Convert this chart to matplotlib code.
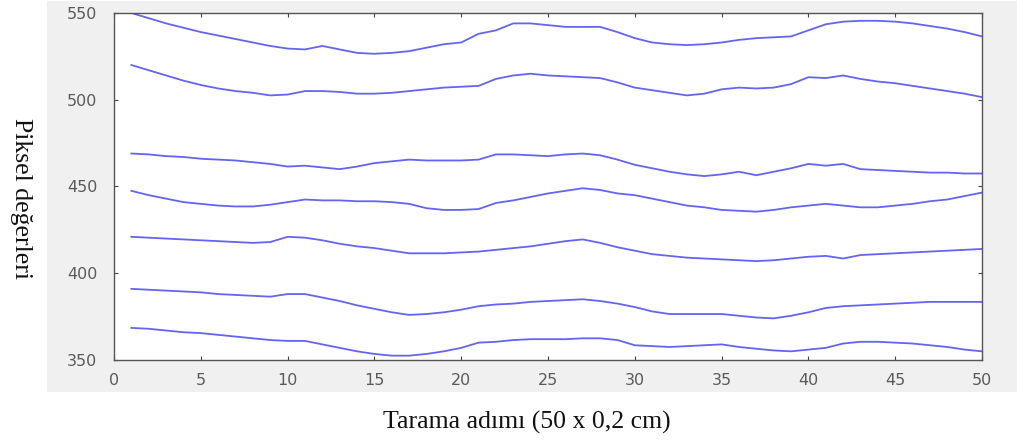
import matplotlib
matplotlib.use("Agg")
import matplotlib.pyplot as plt
from matplotlib.patches import Rectangle

# scan steps 1..50
steps = list(range(1, 51))

line1 = [550, 547, 544, 541.5, 539, 537, 535, 533, 531, 529.5,
         529, 531, 529, 527, 526.5, 527, 528, 530, 532, 533,
         538, 540, 544, 544, 543, 542, 542, 542, 539, 535.5,
         533, 532, 531.5, 532, 533, 534.5, 535.5, 536, 536.5, 540,
         543.5, 545, 545.5, 545.5, 545, 544, 542.5, 541, 539, 536.5]
line2 = [520, 517, 514, 511, 508.5, 506.5, 505, 504, 502.5, 503,
         505, 505, 504.5, 503.5, 503.5, 504, 505, 506, 507, 507.5,
         508, 512, 514, 515, 514, 513.5, 513, 512.5, 510, 507,
         505.5, 504, 502.5, 503.5, 506, 507, 506.5, 507, 509, 513,
         512.5, 514, 512, 510.5, 509.5, 508, 506.5, 505, 503.5, 501.5]
line3 = [469, 468.5, 467.5, 467, 466, 465.5, 465, 464, 463, 461.5,
         462, 461, 460, 461.5, 463.5, 464.5, 465.5, 465, 465, 465,
         465.5, 468.5, 468.5, 468, 467.5, 468.5, 469, 468, 465.5, 462.5,
         460.5, 458.5, 457, 456, 457, 458.5, 456.5, 458.5, 460.5, 463,
         462, 463, 460, 459.5, 459, 458.5, 458, 458, 457.5, 457.5]
line4 = [447.5, 445, 443, 441, 440, 439, 438.5, 438.5, 439.5, 441,
         442.5, 442, 442, 441.5, 441.5, 441, 440, 437.5, 436.5, 436.5,
         437, 440.5, 442, 444, 446, 447.5, 449, 448, 446, 445,
         443, 441, 439, 438, 436.5, 436, 435.5, 436.5, 438, 439,
         440, 439, 438, 438, 439, 440, 441.5, 442.5, 444.5, 446.5]
line5 = [421, 420.5, 420, 419.5, 419, 418.5, 418, 417.5, 418, 421,
         420.5, 419, 417, 415.5, 414.5, 413, 411.5, 411.5, 411.5, 412,
         412.5, 413.5, 414.5, 415.5, 417, 418.5, 419.5, 417.5, 415, 413,
         411, 410, 409, 408.5, 408, 407.5, 407, 407.5, 408.5, 409.5,
         410, 408.5, 410.5, 411, 411.5, 412, 412.5, 413, 413.5, 414]
line6 = [391, 390.5, 390, 389.5, 389, 388, 387.5, 387, 386.5, 388,
         388, 386, 384, 381.5, 379.5, 377.5, 376, 376.5, 377.5, 379,
         381, 382, 382.5, 383.5, 384, 384.5, 385, 384, 382.5, 380.5,
         378, 376.5, 376.5, 376.5, 376.5, 375.5, 374.5, 374, 375.5, 377.5,
         380, 381, 381.5, 382, 382.5, 383, 383.5, 383.5, 383.5, 383.5]
line7 = [368.5, 368, 367, 366, 365.5, 364.5, 363.5, 362.5, 361.5, 361,
         361, 359, 357, 355, 353.5, 352.5, 352.5, 353.5, 355, 357,
         360, 360.5, 361.5, 362, 362, 362, 362.5, 362.5, 361.5, 358.5,
         358, 357.5, 358, 358.5, 359, 357.5, 356.5, 355.5, 355, 356,
         357, 359.5, 360.5, 360.5, 360, 359.5, 358.5, 357.5, 356, 355]

xticks = list(range(0, 51, 5))
yticks = [350, 400, 450, 500, 550]

fig = plt.figure(figsize=(10.17, 4.45), dpi=100, facecolor="white")

# grey panel behind the axes
fig.patches.append(Rectangle((0.046, 0.119), 0.954, 0.879,
                             transform=fig.transFigure,
                             facecolor="#f0f0f0", edgecolor="none", zorder=-1))

ax = fig.add_axes([0.1121, 0.191, 0.8535, 0.7798])
ax.set_zorder(2)
ax.set_facecolor("white")

for ys in [line1, line2, line3, line4, line5, line6, line7]:
    ax.plot(steps, ys, color="#6464f4", linewidth=1.3)

ax.set_xlim(0, 50)
ax.set_ylim(350, 550)
ax.set_xticks(xticks)
ax.set_yticks(yticks)

for s in ax.spines.values():
    s.set_color("#555555")
    s.set_linewidth(1.0)

ax.tick_params(direction="in", top=True, right=True, length=3,
               width=0.8, colors="#444444", labelcolor="#5a5a5a",
               labelsize=11.5)
ax.tick_params(axis="x", pad=9)
ax.tick_params(axis="y", pad=12)

fig.text(0.518, 0.05, "Tarama adımı (50 x 0,2 cm)", ha="center", va="center",
         family="Liberation Serif", fontsize=18.5, color="#111111")
fig.text(0.021, 0.555, "Piksel değerleri", ha="center", va="center",
         rotation=270, family="Liberation Serif", fontsize=18.5, color="#111111")

fig.savefig("out.png", dpi=100, facecolor=fig.get_facecolor())
